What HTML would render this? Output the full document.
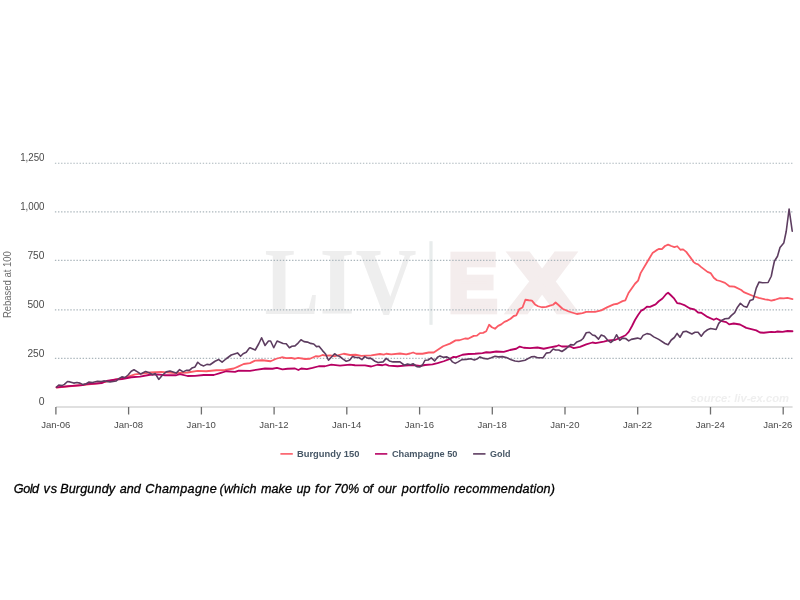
<!DOCTYPE html>
<html lang="en">
<head>
<meta charset="utf-8">
<title>Gold vs Burgundy and Champagne</title>
<style>
html,body{margin:0;padding:0;background:#fff;}
body{width:800px;height:600px;overflow:hidden;position:relative;font-family:"Liberation Sans",sans-serif;}
svg{position:absolute;left:0;top:0;display:block;}
.ax{font-family:"Liberation Sans",sans-serif;font-size:10px;fill:#4a4a4a;}
.lg{font-family:"Liberation Sans",sans-serif;font-size:9.8px;font-weight:bold;fill:#475766;}
.cap{position:absolute;left:0;top:480.8px;-webkit-text-stroke:0.3px #000;width:800px;height:16px;margin:0;font-family:"Liberation Sans",sans-serif;font-style:italic;font-size:12.6px;line-height:16px;color:#000;white-space:nowrap;}
.cap span{position:absolute;top:0;}
</style>
</head>
<body>
<svg width="800" height="600" viewBox="0 0 800 600">

<g>
<text y="313.8" font-family="'Liberation Serif',serif" font-weight="bold" font-size="94.3" fill="#eeeeee"><tspan x="264.6" textLength="54.8" lengthAdjust="spacingAndGlyphs">L</tspan><tspan x="319.4" textLength="35.3" lengthAdjust="spacingAndGlyphs">I</tspan><tspan x="355.6" textLength="61" lengthAdjust="spacingAndGlyphs">V</tspan></text>
<rect x="429.4" y="241.2" width="3.2" height="83.6" fill="#e8ecec"/>
<text y="310.6" font-family="'Liberation Sans',sans-serif" font-weight="bold" font-size="82" fill="#f4eded" stroke="#f4eded" stroke-width="6.5"><tspan x="448.6" textLength="48.6" lengthAdjust="spacingAndGlyphs">E</tspan><tspan x="510" textLength="64.1" lengthAdjust="spacingAndGlyphs">X</tspan></text>
</g>
<line x1="54.9" y1="163.2" x2="792.6" y2="163.2" stroke="#abb6bc" stroke-width="1.1" stroke-dasharray="1.4 1.68"/>
<line x1="54.9" y1="211.9" x2="792.6" y2="211.9" stroke="#abb6bc" stroke-width="1.1" stroke-dasharray="1.4 1.68"/>
<line x1="54.9" y1="260.4" x2="792.6" y2="260.4" stroke="#abb6bc" stroke-width="1.1" stroke-dasharray="1.4 1.68"/>
<line x1="54.9" y1="309.9" x2="792.6" y2="309.9" stroke="#abb6bc" stroke-width="1.1" stroke-dasharray="1.4 1.68"/>
<line x1="54.9" y1="358.4" x2="792.6" y2="358.4" stroke="#abb6bc" stroke-width="1.1" stroke-dasharray="1.4 1.68"/>
<line x1="56" y1="407.0" x2="792.6" y2="407.0" stroke="#d6d6d6" stroke-width="1.35"/>
<line x1="55.9" y1="407.0" x2="55.9" y2="414.5" stroke="#6e6e6e" stroke-width="1.3"/>
<text class="ax" x="41.15" y="428.2" style="font-size:9.8px" textLength="29.2" lengthAdjust="spacingAndGlyphs">Jan-06</text>
<line x1="128.6" y1="407.0" x2="128.6" y2="414.5" stroke="#6e6e6e" stroke-width="1.3"/>
<text class="ax" x="113.88" y="428.2" style="font-size:9.8px" textLength="29.2" lengthAdjust="spacingAndGlyphs">Jan-08</text>
<line x1="201.4" y1="407.0" x2="201.4" y2="414.5" stroke="#6e6e6e" stroke-width="1.3"/>
<text class="ax" x="186.61" y="428.2" style="font-size:9.8px" textLength="29.2" lengthAdjust="spacingAndGlyphs">Jan-10</text>
<line x1="274.1" y1="407.0" x2="274.1" y2="414.5" stroke="#6e6e6e" stroke-width="1.3"/>
<text class="ax" x="259.34" y="428.2" style="font-size:9.8px" textLength="29.2" lengthAdjust="spacingAndGlyphs">Jan-12</text>
<line x1="346.8" y1="407.0" x2="346.8" y2="414.5" stroke="#6e6e6e" stroke-width="1.3"/>
<text class="ax" x="332.07" y="428.2" style="font-size:9.8px" textLength="29.2" lengthAdjust="spacingAndGlyphs">Jan-14</text>
<line x1="419.6" y1="407.0" x2="419.6" y2="414.5" stroke="#6e6e6e" stroke-width="1.3"/>
<text class="ax" x="404.80" y="428.2" style="font-size:9.8px" textLength="29.2" lengthAdjust="spacingAndGlyphs">Jan-16</text>
<line x1="492.3" y1="407.0" x2="492.3" y2="414.5" stroke="#6e6e6e" stroke-width="1.3"/>
<text class="ax" x="477.53" y="428.2" style="font-size:9.8px" textLength="29.2" lengthAdjust="spacingAndGlyphs">Jan-18</text>
<line x1="565.0" y1="407.0" x2="565.0" y2="414.5" stroke="#6e6e6e" stroke-width="1.3"/>
<text class="ax" x="550.26" y="428.2" style="font-size:9.8px" textLength="29.2" lengthAdjust="spacingAndGlyphs">Jan-20</text>
<line x1="637.7" y1="407.0" x2="637.7" y2="414.5" stroke="#6e6e6e" stroke-width="1.3"/>
<text class="ax" x="622.99" y="428.2" style="font-size:9.8px" textLength="29.2" lengthAdjust="spacingAndGlyphs">Jan-22</text>
<line x1="710.5" y1="407.0" x2="710.5" y2="414.5" stroke="#6e6e6e" stroke-width="1.3"/>
<text class="ax" x="695.72" y="428.2" style="font-size:9.8px" textLength="29.2" lengthAdjust="spacingAndGlyphs">Jan-24</text>
<line x1="783.2" y1="407.0" x2="783.2" y2="414.5" stroke="#6e6e6e" stroke-width="1.3"/>
<text class="ax" x="763.20" y="428.2" style="font-size:9.8px" textLength="29.2" lengthAdjust="spacingAndGlyphs">Jan-26</text>
<text class="ax" x="20.15" y="161.4" textLength="24.3" lengthAdjust="spacingAndGlyphs">1,250</text>
<text class="ax" x="20.15" y="210.1" textLength="24.3" lengthAdjust="spacingAndGlyphs">1,000</text>
<text class="ax" x="27.45" y="258.6" textLength="17.0" lengthAdjust="spacingAndGlyphs">750</text>
<text class="ax" x="27.45" y="308.1" textLength="17.0" lengthAdjust="spacingAndGlyphs">500</text>
<text class="ax" x="27.45" y="356.6" textLength="17.0" lengthAdjust="spacingAndGlyphs">250</text>
<text class="ax" x="38.65" y="405.2" textLength="5.8" lengthAdjust="spacingAndGlyphs">0</text>
<text class="ax" transform="translate(11.2,318.1) rotate(-90)" style="font-size:10.6px;fill:#6c6c6c" textLength="67" lengthAdjust="spacingAndGlyphs">Rebased at 100</text>
<text x="690.6" y="402.1" font-family="'Liberation Sans',sans-serif" font-size="10.8" font-style="italic" font-weight="bold" fill="#efefef" textLength="98.4" lengthAdjust="spacingAndGlyphs">source: liv-ex.com</text>
<path d="M56.50 387.50 L82.50 385.00 L100.00 383.20 L116.25 379.40 L125.00 377.60 L135.00 374.40 L142.00 373.60 L150.00 372.50 L161.25 371.90 L175.00 373.10 L187.50 372.50 L197.50 370.90 L206.25 371.25 L216.25 370.25 L225.00 370.00 L233.75 368.50 L237.50 366.90 L243.75 364.00 L250.00 363.10 L255.00 360.60 L262.50 360.25 L270.60 361.25 L276.25 358.75 L281.90 357.25 L286.25 358.10 L291.25 357.90 L295.00 358.75 L298.10 357.90 L305.00 359.00 L310.00 358.75 L315.60 356.25 L318.75 356.50 L322.50 355.00 L326.25 355.60 L330.00 355.40 L335.00 356.25 L338.75 355.00 L343.75 353.75 L350.00 355.00 L355.60 354.75 L361.25 355.90 L371.25 355.40 L380.00 354.00 L383.75 354.60 L386.25 353.75 L391.25 354.40 L400.00 353.50 L406.25 354.40 L410.00 353.50 L413.10 352.50 L416.25 353.75 L422.50 353.75 L428.75 352.50 L433.75 352.50 L437.50 350.00 L443.10 346.25 L450.00 343.60 L455.60 340.40 L459.40 340.25 L465.00 338.50 L468.10 338.75 L473.75 335.90 L476.90 335.60 L480.00 333.10 L483.10 332.90 L486.25 331.25 L489.10 324.75 L491.90 327.25 L495.00 328.75 L498.10 325.90 L501.25 324.40 L504.40 321.90 L507.50 320.60 L510.60 318.75 L513.75 316.00 L516.25 315.40 L519.40 309.00 L522.50 307.50 L525.40 299.75 L528.75 300.25 L531.90 300.60 L535.00 304.40 L538.10 306.25 L541.90 307.25 L546.25 306.90 L550.00 305.60 L553.10 304.75 L555.60 302.50 L558.75 305.25 L562.50 308.75 L568.75 311.50 L576.90 314.00 L582.50 313.10 L586.25 311.90 L595.00 311.90 L601.25 310.40 L607.50 307.10 L613.75 304.40 L617.50 303.75 L622.50 301.10 L625.30 300.30 L628.50 293.00 L635.00 283.75 L638.10 280.60 L640.60 273.10 L646.90 262.50 L652.50 253.10 L656.25 250.40 L658.75 249.00 L661.90 249.10 L665.00 246.00 L668.10 244.60 L671.25 246.00 L674.40 247.10 L677.25 246.25 L680.40 249.75 L683.10 249.40 L686.25 251.90 L690.00 256.90 L693.75 262.10 L695.60 263.50 L698.10 264.40 L701.25 267.10 L707.50 271.90 L710.60 273.10 L713.75 277.75 L716.90 280.25 L720.00 281.00 L725.00 282.90 L729.40 286.25 L734.40 286.60 L741.25 290.00 L743.75 292.10 L753.75 296.25 L758.75 297.90 L765.00 299.40 L768.10 299.75 L771.25 300.60 L775.00 299.75 L780.00 298.10 L783.75 298.40 L787.50 297.90 L792.50 299.10" fill="none" stroke="#fb5a65" stroke-width="1.8" stroke-linejoin="round" stroke-linecap="round"/>
<path d="M56.60 387.30 L69.00 386.20 L82.50 385.20 L86.25 384.10 L95.00 383.60 L102.00 383.00 L106.50 381.00 L116.25 379.50 L122.00 379.00 L131.25 377.25 L140.00 376.60 L150.00 374.75 L157.50 374.40 L165.00 375.25 L176.25 375.25 L180.00 374.10 L187.50 376.00 L195.00 375.90 L203.75 375.00 L213.75 375.00 L220.00 373.10 L226.25 371.25 L235.00 371.90 L238.75 370.60 L250.00 370.80 L257.50 369.60 L265.00 368.50 L272.50 368.75 L276.90 367.90 L282.50 369.40 L287.50 368.75 L295.00 368.50 L298.40 370.00 L301.25 368.50 L306.90 369.10 L312.50 367.90 L318.75 366.25 L325.00 366.25 L331.25 364.60 L340.00 365.60 L350.00 364.60 L355.00 365.25 L365.00 365.40 L371.25 366.50 L377.50 364.75 L382.50 365.25 L385.60 364.40 L388.75 365.60 L397.50 366.25 L405.00 365.60 L412.50 365.00 L420.00 366.00 L425.00 365.00 L432.50 364.40 L437.50 363.10 L443.75 361.25 L450.00 358.80 L453.10 356.90 L456.25 357.10 L462.50 354.75 L468.75 354.00 L475.00 353.75 L482.50 353.10 L486.25 352.25 L490.00 352.50 L496.25 351.50 L503.75 351.90 L510.00 350.00 L516.25 348.75 L519.75 346.60 L523.75 347.75 L530.00 348.10 L537.50 347.50 L543.75 348.75 L550.00 347.40 L556.25 346.25 L558.75 345.25 L561.90 346.50 L570.00 346.50 L573.75 348.10 L580.00 346.90 L586.25 344.40 L592.50 342.50 L595.60 343.10 L603.75 341.60 L608.75 340.40 L615.00 340.00 L621.25 337.25 L625.60 335.25 L628.75 331.90 L631.90 326.25 L635.00 320.00 L638.10 315.00 L641.25 310.60 L643.75 309.40 L646.90 306.70 L650.00 306.80 L655.60 304.40 L658.75 301.25 L662.50 298.50 L666.25 294.00 L668.10 292.75 L670.60 295.00 L673.75 298.10 L677.10 303.10 L680.00 303.50 L685.00 305.40 L690.00 308.50 L694.40 309.40 L698.10 312.50 L701.25 312.75 L707.50 316.90 L713.75 319.75 L716.40 318.45 L721.80 321.10 L726.25 322.10 L729.20 324.40 L733.75 323.50 L740.00 324.50 L746.25 327.90 L751.25 329.10 L756.25 330.40 L760.00 332.50 L763.75 332.75 L771.25 331.90 L775.00 332.10 L777.50 331.50 L782.50 331.90 L787.50 331.00 L792.50 331.25" fill="none" stroke="#b70062" stroke-width="1.8" stroke-linejoin="round" stroke-linecap="round"/>
<path d="M56.50 387.00 L58.75 385.00 L61.90 385.60 L64.40 384.40 L67.50 381.50 L70.00 381.90 L73.75 383.10 L76.90 382.50 L80.00 383.10 L83.10 384.60 L86.25 383.75 L88.75 382.10 L92.50 382.50 L97.50 381.25 L101.25 381.60 L103.75 380.90 L110.00 381.90 L116.25 381.00 L118.75 378.75 L121.90 376.90 L125.00 377.50 L128.10 375.00 L131.25 371.25 L134.00 369.75 L137.50 371.90 L140.60 374.00 L145.60 371.50 L150.00 373.10 L152.50 374.75 L155.25 373.50 L158.75 379.40 L162.50 375.00 L166.25 371.90 L170.00 371.00 L176.25 373.10 L179.60 369.60 L183.10 371.90 L186.25 370.40 L189.40 370.40 L191.90 368.10 L195.00 366.90 L197.75 362.25 L200.60 364.75 L203.75 365.90 L206.90 364.40 L210.00 364.75 L215.00 361.25 L218.75 359.60 L222.10 362.10 L226.25 358.75 L231.25 355.00 L237.50 352.90 L240.60 356.25 L243.10 353.75 L246.25 352.25 L249.40 348.10 L250.00 347.75 L255.25 350.00 L258.75 343.75 L261.60 337.75 L265.00 345.40 L268.50 341.00 L270.60 341.00 L273.75 347.75 L277.10 341.00 L283.10 343.50 L286.25 343.75 L289.40 347.75 L291.90 346.25 L295.00 345.90 L298.10 343.10 L301.00 339.75 L304.00 341.60 L307.50 342.10 L310.60 343.40 L313.75 344.00 L316.50 346.60 L319.00 346.25 L322.50 350.60 L325.60 354.00 L328.50 360.25 L331.25 357.25 L334.60 353.75 L336.90 355.40 L339.40 356.25 L343.10 359.10 L346.25 361.25 L348.75 360.60 L350.00 359.75 L352.50 356.50 L355.60 357.50 L358.75 357.50 L361.90 359.60 L364.75 356.60 L368.10 358.40 L370.60 358.10 L375.00 361.25 L378.10 362.50 L383.10 361.90 L386.25 358.40 L389.40 360.90 L393.10 361.90 L400.00 361.90 L404.40 365.25 L407.50 364.00 L410.60 364.75 L413.10 363.75 L416.90 366.60 L420.00 366.90 L422.50 365.00 L425.00 360.25 L428.10 360.00 L431.25 357.90 L434.60 360.90 L437.50 357.25 L440.00 355.90 L443.10 357.25 L446.90 356.90 L450.00 358.75 L452.50 361.90 L455.25 363.40 L458.10 361.90 L461.90 359.60 L466.25 359.40 L470.60 358.75 L474.40 360.00 L476.90 359.10 L480.00 356.90 L483.75 358.40 L487.50 359.00 L491.25 357.75 L495.00 356.25 L498.10 356.90 L502.50 356.60 L506.25 357.50 L511.25 359.75 L515.00 361.00 L518.75 361.50 L525.00 360.25 L531.25 356.90 L534.40 356.50 L537.50 357.75 L543.10 357.75 L546.25 353.10 L550.00 352.50 L553.10 349.00 L555.60 350.00 L558.75 350.00 L561.90 351.50 L566.25 348.50 L570.60 344.60 L573.75 345.00 L576.90 341.90 L580.60 340.60 L583.10 338.50 L586.25 332.75 L589.40 332.25 L592.50 335.00 L595.00 335.60 L598.50 339.10 L601.25 335.00 L604.40 336.25 L607.50 340.00 L610.60 342.50 L613.75 340.00 L616.50 334.75 L619.75 340.40 L622.50 338.10 L625.60 338.50 L628.75 340.90 L631.25 339.40 L637.50 338.10 L640.60 339.10 L643.10 335.40 L646.90 333.60 L650.00 334.20 L653.75 336.90 L658.75 339.40 L665.00 343.50 L668.10 344.75 L671.25 340.00 L674.40 337.50 L677.10 333.40 L680.00 337.25 L683.10 331.90 L686.25 331.25 L691.90 334.00 L695.00 332.25 L698.10 332.25 L701.25 336.25 L704.40 332.10 L707.50 329.75 L710.60 328.50 L716.10 329.50 L718.75 323.40 L721.50 320.50 L725.00 318.75 L728.75 318.40 L731.25 315.60 L734.70 312.70 L737.50 307.20 L740.40 303.30 L743.75 306.25 L746.90 307.25 L750.00 300.60 L753.10 299.40 L754.40 295.00 L756.25 288.10 L759.00 282.10 L762.50 282.75 L768.10 282.50 L771.25 276.25 L772.50 270.00 L774.40 261.25 L777.50 256.25 L780.00 247.50 L783.75 243.10 L786.25 231.25 L789.10 209.00 L792.25 231.25" fill="none" stroke="#5d3d60" stroke-width="1.6" stroke-linejoin="round" stroke-linecap="round"/>
<line x1="280.4" y1="453.9" x2="292.8" y2="453.9" stroke="#fb5a65" stroke-width="1.6"/>
<text class="lg" x="297" y="456.95" textLength="62.4" lengthAdjust="spacingAndGlyphs">Burgundy 150</text>
<line x1="375" y1="453.9" x2="387.3" y2="453.9" stroke="#b70062" stroke-width="1.6"/>
<text class="lg" x="391.9" y="456.95" textLength="65.6" lengthAdjust="spacingAndGlyphs">Champagne 50</text>
<line x1="473.1" y1="453.9" x2="485.5" y2="453.9" stroke="#5d3d60" stroke-width="1.6"/>
<text class="lg" x="490" y="456.95" textLength="20.5" lengthAdjust="spacingAndGlyphs">Gold</text>
</svg>
<p class="cap"><span style="left:13.85px;letter-spacing:-0.48px">Gold</span> <span style="left:43.60px;letter-spacing:0.8px">vs</span> <span style="left:60.20px;letter-spacing:0.14px">Burgundy</span> <span style="left:119.70px;letter-spacing:0.0px">and</span> <span style="left:145.20px;letter-spacing:0.36px">Champagne</span> <span style="left:219.60px;letter-spacing:0.12px">(which</span> <span style="left:261.10px;letter-spacing:0.0px">make</span> <span style="left:296.60px;letter-spacing:0.0px">up</span> <span style="left:315.00px;letter-spacing:0.55px">for</span> <span style="left:334.10px;letter-spacing:0.0px">70%</span> <span style="left:363.10px;letter-spacing:-0.6px">of</span> <span style="left:378.00px;letter-spacing:0.0px">our</span> <span style="left:401.75px;letter-spacing:0.38px">portfolio</span> <span style="left:454.10px;letter-spacing:0.21px">recommendation)</span></p>
</body>
</html>
